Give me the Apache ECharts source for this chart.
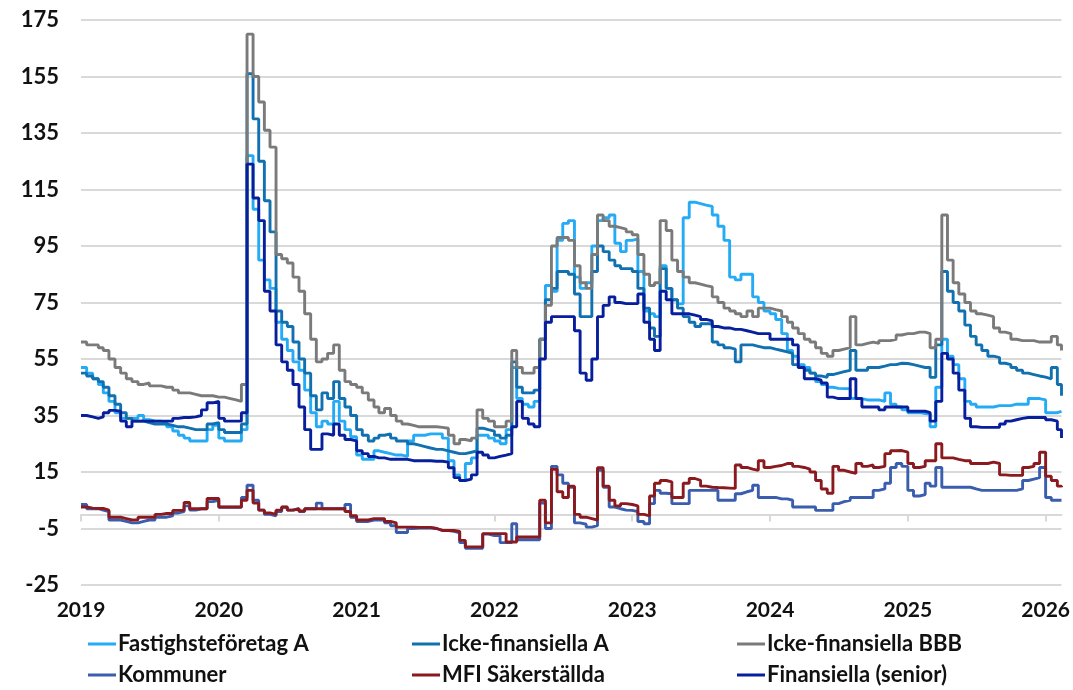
<!DOCTYPE html>
<html>
<head>
<meta charset="utf-8">
<script src="https://cdn.jsdelivr.net/npm/echarts@6/dist/echarts.min.js"></script>
<style>
  html, body { margin: 0; padding: 0; background: #fff; }
  #chart { width: 1073px; height: 690px; }
</style>
</head>
<body>
<div id="chart"></div>
<script>
// half-month grid: 1st and 16th of every month, last point 2026-02-12
const dates = [];
for (let y = 2019; y <= 2025; y++) {
  for (let m = 1; m <= 12; m++) {
    const mm = (m < 10 ? '0' : '') + m;
    dates.push(y + '-' + mm + '-01', y + '-' + mm + '-16');
  }
}
dates.push('2026-01-01', '2026-01-16', '2026-02-01', '2026-02-12');

const fastighet = [
  52, 50, 48, 46, 43, 40, 36, 34, 34, 34, 35, 33.5, 33, 33, 32.5, 31, 29.5, 28, 27, 26, 26, 26, 30, 31.5,
  27, 26, 26, 26, 30, 127, 108, 90, 83, 80, 68, 62, 58, 54, 51, 44, 36, 31, 33, 32, 40, 33, 30, 27.5,
  21, 19.5, 19.5, 22.5, 22, 21.5, 21, 21, 20.5, 26, 28, 28, 28.5, 28.5, 28.5, 27, 19, 14, 12, 18, 20, 28, 28, 27,
  26, 25, 30, 52, 41, 39, 38, 40, 62, 81, 79, 97, 103, 104, 84, 80, 82, 95, 104, 105, 106, 96, 93, 97,
  97.5, 86, 72, 71, 70, 88, 80, 76, 74.5, 105, 110.5, 110, 109.5, 109, 106, 102, 97, 84, 83, 85, 85, 77, 75, 72,
  71, 69, 64, 58, 56, 53, 52, 50, 47, 46, 45, 44.6, 44.5, 44.5, 41, 41, 40.5, 40.5, 40.5, 40, 43, 39, 38, 37,
  36, 36, 35.7, 35.5, 31, 45, 62, 56, 53, 48, 40, 39, 38, 38, 38, 38.5, 38.5, 38.5, 39, 39, 39, 41, 41, 40.5,
  36, 36, 36.5, 36.5
];
const ickeFinA = [
  50, 49, 48, 47, 45, 42, 39, 36, 34, 33, 33, 32.5, 32, 32, 32, 31.5, 31, 31, 30.5, 30, 30, 30, 32, 32.5,
  30, 29, 29, 29, 32, 156, 140, 125, 111, 100, 72, 68, 66.5, 61, 55, 50, 42, 37, 43, 41, 47, 41, 38, 35,
  30, 28, 26, 27, 28, 28.5, 27, 26, 26, 25, 24.5, 24, 23.5, 23, 23, 22.5, 22, 21.5, 21.5, 22, 22.5, 30.5, 30, 29.5,
  28, 27, 28, 54, 45, 43, 43, 44, 62, 76, 80, 86, 86, 85, 78, 70, 70, 86, 95, 93, 90, 88, 87, 87,
  86, 80, 73, 66, 63, 87, 80, 76, 73, 70, 68, 66.5, 67.5, 67.5, 61, 60, 59, 58.5, 54, 60, 60, 59.5, 59, 59,
  58.5, 58, 57.5, 57, 53, 52, 51, 50, 49, 48.5, 49.5, 50, 50.5, 51, 58, 51, 51, 52, 52, 52.5, 53, 53, 53.5, 53.4,
  53, 52.5, 52, 52, 48.5, 60, 86, 79, 75, 72, 67, 63, 60, 58, 56, 55.5, 53.5, 53, 52, 51, 50, 49.5, 49, 48.6,
  48, 52, 46, 42
];
const ickeFinBBB = [
  61, 60, 60, 59, 58, 55, 52, 50, 48, 47, 46, 46.5, 45.5, 45.5, 45, 45, 44, 43, 43, 42.5, 42, 42, 42, 41.5,
  41.5, 41, 40.5, 40, 46, 170, 155, 146, 136, 130, 92, 90.5, 89, 84, 79, 71, 62, 54, 55, 57, 60, 51, 47, 46,
  45, 43, 40.5, 38, 36, 37.5, 35, 33, 32, 31.5, 31, 31, 31, 31, 30.8, 30.5, 28, 25, 26.5, 26, 27, 37, 34, 33,
  31, 31, 33, 58, 52, 50, 50, 52, 62, 74, 95, 98, 98, 97, 88, 82, 80, 92, 106, 104, 102, 101.5, 101, 100,
  99, 92, 85, 81, 82, 104, 100.5, 90, 86, 84, 82, 81.5, 81, 80.5, 77, 75, 73, 72, 71, 70, 72, 70, 73, 73,
  72.5, 72, 70, 68, 66, 64, 62, 61, 59, 57, 56, 58, 58.5, 59, 70, 60, 60.5, 61, 60.5, 61.5, 61.5, 62, 63.5, 64,
  64, 64.5, 64.5, 64, 59, 62, 106, 90, 82, 78, 75, 72, 71, 70.5, 70, 66, 64.5, 64, 62, 61.5, 61.5, 61.5, 61, 61,
  61, 63, 60, 58
];
const kommuner = [
  3.5, 2, 2, 1.5, 1, -2, -2, -2.5, -3, -3, -2.5, -2, -2, -1, -1, -0.5, 0.5, 1, 3, 1.5, 2, 2, 4.5, 5,
  2.5, 2.5, 2.5, 2.5, 6, 10.3, 5, 1.5, 0, -0.5, 1, 2.5, 1.5, 2, 1, 2, 2, 4, 2, 2, 2, 2, 3.5, -1,
  -2.5, -2.5, -2, -2, -2, -3, -4, -6.4, -6.4, -5, -4.8, -4.8, -4.8, -5, -5.7, -5.7, -6, -6.5, -10, -12, -12, -12, -7, -7.5,
  -7.5, -10, -10, -3.3, -9, -9, -9, -9, 4, -5, 17, 14, 11, 9.6, -3, -3.5, -4.5, -4, 15.6, 9.6, 2.6, 2, 1.5, 1.4,
  1, -2.5, -3.3, 3.8, 8.5, 7.5, 7.3, 3.8, 3.8, 3.8, 8.5, 8.5, 8.5, 8.5, 8.5, 5, 5, 5, 7.3, 8, 8.5, 10.3, 6, 6,
  6, 5.5, 5.5, 5, 2.6, 2.6, 2.6, 2.6, 1.4, 1.4, 1.4, 3.8, 4.5, 5, 6, 6, 6, 6, 8.5, 9, 11, 16.6, 18, 17,
  8.5, 6.5, 7, 11, 10, 16.6, 9.6, 9.6, 9.6, 9.6, 9.6, 9, 8.5, 8.5, 8.5, 8.5, 8.5, 8.5, 8.5, 9, 12, 12.5, 13, 16.6,
  6, 5, 5, 5
];
const mfiSakerstallda = [
  2.6, 2.2, 2.1, 2.1, 1.5, -1, -1, -1.5, -2, -2, -1, -1, -1, 0, 0.3, 0.3, 1.4, 1.4, 4.2, 2, 2, 2, 5.6, 5.6,
  2.6, 2.6, 2.6, 2.6, 5, 8.5, 4, 1.5, 0.5, 0, 1.5, 2.6, 1.5, 2, 1.2, 2, 2, 2, 2, 2, 2, 2, 1, -0.5,
  -2, -2, -1.5, -1.5, -1.5, -2.5, -3, -4.5, -4.5, -4.5, -4.6, -4.6, -4.6, -5, -5.7, -5.7, -5.7, -6, -9.2, -11.5, -11.5, -11.5, -6.8, -6.8,
  -6.8, -6.8, -9.8, -9.8, -8, -8, -8, -8, 5, -3, 16, 8, 6, 10, 0, -1, -1.5, -2, 16.5, 10, 5, 3, 3.8, 3.5,
  3, 0, -0.5, 6.5, 11, 12, 11.5, 6, 6, 11, 12.7, 12, 10, 9.6, 9.5, 9.4, 9.3, 9.2, 17.5, 16.6, 16, 15.6, 19, 16.6,
  17, 17.3, 18, 18, 17, 16.6, 16, 15, 12, 9, 7.5, 17, 15.6, 15, 14.5, 18, 17, 17.5, 16.6, 17, 21.5, 22.5, 22.6, 22,
  18, 16.6, 17, 19, 19, 25, 20, 20, 19.5, 19, 19, 18, 18, 18, 18.5, 18, 14, 13.8, 13.8, 13.8, 16.6, 17, 18, 22,
  13.5, 12, 10, 9.6
];
const finansiellaSenior = [
  35, 34.5, 34, 34.5, 36, 36.8, 36.5, 33, 31, 33, 33, 33, 33, 33, 33, 33, 34, 34.3, 34.3, 34.5, 35, 37, 39.5, 40,
  34, 33, 33, 33, 36, 124, 112, 104, 79, 72, 60, 54, 51, 46, 38, 30, 23, 23, 28.5, 28, 32, 28, 26.5, 26,
  22.5, 21.5, 20.5, 20, 20, 19.5, 19.5, 19.5, 19.5, 19, 19, 19, 19, 18.8, 18.8, 18.5, 16.5, 13, 12, 12.5, 14, 22, 21, 20,
  20.5, 21, 21.5, 31, 40, 34, 32, 31, 55, 68, 70, 70, 70, 70, 65, 50, 47.5, 55, 70, 74, 77, 75, 74.6, 74.6,
  74.6, 78, 68, 62, 58, 79, 76, 71, 71, 71, 70.5, 70, 69, 68.5, 66.5, 66, 66, 65.5, 65.5, 65, 64.5, 64, 64, 64,
  62, 62, 62, 62, 60, 52, 48, 48, 47.5, 46.5, 41.5, 41, 41, 41, 48, 41, 38, 38, 38, 37, 38, 38, 38, 38,
  36.5, 36.5, 36.5, 36, 33, 40, 57, 55, 50, 44, 34, 31, 30.8, 30.8, 30.8, 30.8, 32, 33, 33.5, 34, 34.3, 34.3, 34.3, 34.3,
  33.5, 33, 30, 27
];

const yearTicks = [2019, 2020, 2021, 2022, 2023, 2024, 2025, 2026];

function toYear(s) {
  const p = s.split('-').map(Number);
  const t0 = Date.UTC(p[0], 0, 1), t1 = Date.UTC(p[0] + 1, 0, 1);
  return p[0] + (Date.UTC(p[0], p[1] - 1, p[2]) - t0) / (t1 - t0);
}
const xs = dates.map(toYear);
const pairs = vals => vals.map((v, i) => [xs[i], v]);

const font = 'Lato, "Open Sans", sans-serif';
const gridGray = '#d9d9d9';

const seriesDefs = [
  { name: 'Fastighsteföretag A', data: fastighet, color: '#25abf5' },
  { name: 'Icke-finansiella A', data: ickeFinA, color: '#1170b0' },
  { name: 'Icke-finansiella BBB', data: ickeFinBBB, color: '#7a7a7a' },
  { name: 'Kommuner', data: kommuner, color: '#3a5dae' },
  { name: 'MFI Säkerställda', data: mfiSakerstallda, color: '#8b1a1f' },
  { name: 'Finansiella (senior)', data: finansiellaSenior, color: '#071f9c' }
];

function legendCol(left, names) {
  return {
    orient: 'vertical',
    left: left,
    top: 632,
    height: 58,
    padding: 0,
    itemWidth: 28,
    itemHeight: 3,
    itemGap: 7,
    icon: 'rect',
    data: names,
    textStyle: { fontFamily: font, fontWeight: 'bold', fontSize: 22, color: '#111', lineHeight: 24, padding: [0, 0, 0, -3] }
  };
}

const chart = echarts.init(document.getElementById('chart'), null, { renderer: 'canvas' });
chart.setOption({
  animation: false,
  backgroundColor: '#fff',
  grid: { left: 81, right: 6, top: 20, bottom: 105, containLabel: false },
  legend: [
    legendCol(88, ['Fastighsteföretag A', 'Kommuner']),
    legendCol(412, ['Icke-finansiella A', 'MFI Säkerställda']),
    legendCol(737, ['Icke-finansiella BBB', 'Finansiella (senior)'])
  ],
  xAxis: [{
    type: 'value',
    min: 2019,
    max: xs[xs.length - 1],
    interval: 1,
    axisLine: { show: true, onZero: true, lineStyle: { color: gridGray, width: 2 } },
    axisTick: { show: true, length: 7, customValues: yearTicks, lineStyle: { color: gridGray, width: 2 } },
    axisLabel: { show: false },
    splitLine: { show: false }
  }, {
    type: 'value',
    position: 'bottom',
    min: 2019,
    max: xs[xs.length - 1],
    interval: 1,
    axisLine: { show: false, onZero: false },
    axisTick: { show: false },
    splitLine: { show: false },
    axisLabel: {
      show: true,
      margin: 15,
      customValues: yearTicks,
      formatter: v => (Number.isInteger(v) ? String(v) : ''),
      fontFamily: font, fontWeight: 'bold', fontSize: 21, color: '#111'
    }
  }],
  yAxis: {
    type: 'value',
    min: -25,
    max: 175,
    interval: 20,
    axisLine: { show: false },
    axisTick: { show: false },
    axisLabel: { margin: 22, fontFamily: font, fontWeight: 'bold', fontSize: 22, color: '#111' },
    splitLine: { show: true, lineStyle: { color: gridGray, width: 2 } }
  },
  series: seriesDefs.map(s => ({
    name: s.name,
    type: 'line',
    step: 'end',
    showSymbol: false,
    data: pairs(s.data),
    lineStyle: { width: 2.9, color: s.color },
    itemStyle: { color: s.color }
  }))
});
</script>
</body>
</html>
